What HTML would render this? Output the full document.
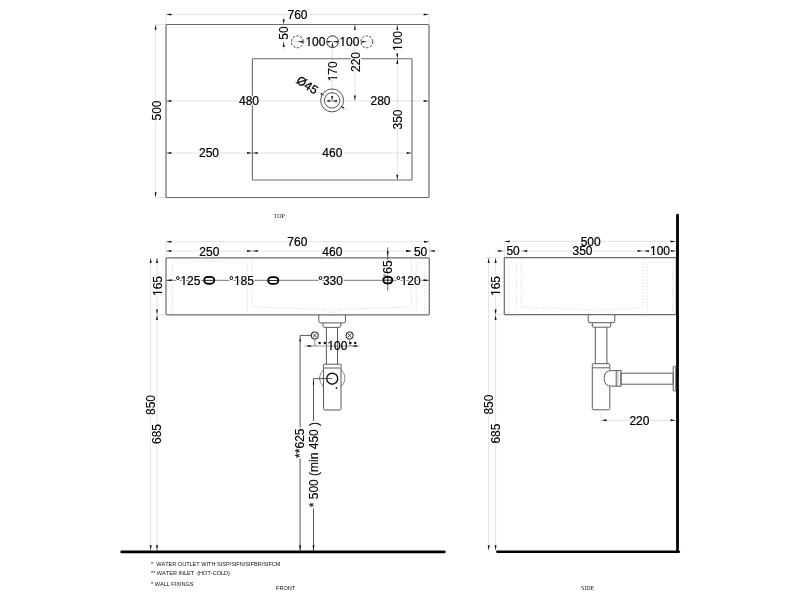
<!DOCTYPE html>
<html><head><meta charset="utf-8"><style>
html,body{margin:0;padding:0;background:#fff;width:800px;height:600px;overflow:hidden}
svg{display:block;filter:grayscale(1)}
text{font-family:"Liberation Sans",sans-serif;font-kerning:none}
</style></head><body>
<svg width="800" height="600" viewBox="0 0 800 600">
<rect width="800" height="600" fill="#fff"/>
<line x1="166" y1="14" x2="166" y2="24.5" stroke="#e2e2e2" stroke-width="1.0" />
<line x1="429" y1="14" x2="429" y2="24.5" stroke="#e2e2e2" stroke-width="1.0" />
<line x1="155" y1="24.5" x2="166" y2="24.5" stroke="#e2e2e2" stroke-width="1.0" />
<line x1="155" y1="197.5" x2="166" y2="197.5" stroke="#e2e2e2" stroke-width="1.0" />
<line x1="166" y1="14.4" x2="429" y2="14.4" stroke="#e2e2e2" stroke-width="1.0" />
<line x1="155.6" y1="24.5" x2="155.6" y2="197.5" stroke="#e2e2e2" stroke-width="1.0" />
<line x1="166" y1="100.9" x2="429" y2="100.9" stroke="#e2e2e2" stroke-width="1.0" />
<line x1="166" y1="153" x2="412" y2="153" stroke="#e2e2e2" stroke-width="1.0" />
<line x1="283.7" y1="14" x2="283.7" y2="50" stroke="#e2e2e2" stroke-width="1.0" />
<line x1="290" y1="41.7" x2="375" y2="41.7" stroke="#e2e2e2" stroke-width="1.0" />
<line x1="332.3" y1="41.7" x2="332.3" y2="100.5" stroke="#e2e2e2" stroke-width="1.0" />
<line x1="354.9" y1="24.5" x2="354.9" y2="100.9" stroke="#e2e2e2" stroke-width="1.0" />
<line x1="397.3" y1="24.5" x2="397.3" y2="180" stroke="#e2e2e2" stroke-width="1.0" />
<line x1="317.2" y1="91" x2="347.6" y2="110.4" stroke="#d8d8d8" stroke-width="1.0" />
<line x1="166" y1="241.7" x2="166" y2="257.8" stroke="#e2e2e2" stroke-width="1.0" />
<line x1="429.3" y1="241.7" x2="429.3" y2="257.8" stroke="#e2e2e2" stroke-width="1.0" />
<line x1="166" y1="241.7" x2="429.3" y2="241.7" stroke="#e2e2e2" stroke-width="1.0" />
<line x1="166" y1="251" x2="439" y2="251" stroke="#e2e2e2" stroke-width="1.0" />
<line x1="150.7" y1="257.8" x2="150.7" y2="551" stroke="#e2e2e2" stroke-width="1.0" />
<line x1="157" y1="257.8" x2="157" y2="551" stroke="#e2e2e2" stroke-width="1.0" />
<line x1="157" y1="314.8" x2="166" y2="314.8" stroke="#e2e2e2" stroke-width="1.0" />
<line x1="504.3" y1="241.4" x2="504.3" y2="257.7" stroke="#e2e2e2" stroke-width="1.0" />
<line x1="676" y1="241.4" x2="676" y2="257.7" stroke="#e2e2e2" stroke-width="1.0" />
<line x1="504.3" y1="241.4" x2="676" y2="241.4" stroke="#e2e2e2" stroke-width="1.0" />
<line x1="494.5" y1="251.1" x2="676" y2="251.1" stroke="#e2e2e2" stroke-width="1.0" />
<line x1="488.7" y1="257.7" x2="488.7" y2="551" stroke="#e2e2e2" stroke-width="1.0" />
<line x1="495.6" y1="257.7" x2="495.6" y2="551" stroke="#e2e2e2" stroke-width="1.0" />
<line x1="486" y1="257.7" x2="504.3" y2="257.7" stroke="#e2e2e2" stroke-width="1.0" />
<line x1="495.6" y1="314.7" x2="504.3" y2="314.7" stroke="#e2e2e2" stroke-width="1.0" />
<line x1="601" y1="412.2" x2="601" y2="420.3" stroke="#e2e2e2" stroke-width="1.0" />
<line x1="601" y1="420.3" x2="676" y2="420.3" stroke="#e2e2e2" stroke-width="1.0" />
<polygon points="166.00,14.40 171.30,13.40 171.30,15.40" fill="#111"/>
<polygon points="429.00,14.40 423.70,13.40 423.70,15.40" fill="#111"/>
<polygon points="155.60,24.50 154.60,29.80 156.60,29.80" fill="#111"/>
<polygon points="155.60,197.50 154.60,192.20 156.60,192.20" fill="#111"/>
<polygon points="166.00,100.90 171.30,99.90 171.30,101.90" fill="#111"/>
<polygon points="429.00,100.90 423.70,99.90 423.70,101.90" fill="#111"/>
<polygon points="166.00,153.00 171.30,152.00 171.30,154.00" fill="#111"/>
<polygon points="252.40,153.00 247.10,152.00 247.10,154.00" fill="#111"/>
<polygon points="252.40,153.00 257.70,152.00 257.70,154.00" fill="#111"/>
<polygon points="412.00,153.00 406.70,152.00 406.70,154.00" fill="#111"/>
<polygon points="283.70,24.50 282.70,19.20 284.70,19.20" fill="#111"/>
<polygon points="283.70,41.70 282.70,47.00 284.70,47.00" fill="#111"/>
<polygon points="297.50,41.70 302.80,40.70 302.80,42.70" fill="#111"/>
<polygon points="332.50,41.70 327.20,40.70 327.20,42.70" fill="#111"/>
<polygon points="332.50,41.70 337.80,40.70 337.80,42.70" fill="#111"/>
<polygon points="366.80,41.70 361.50,40.70 361.50,42.70" fill="#111"/>
<polygon points="354.90,24.50 353.90,29.80 355.90,29.80" fill="#111"/>
<polygon points="354.90,100.90 353.90,95.60 355.90,95.60" fill="#111"/>
<polygon points="397.30,24.50 396.30,29.80 398.30,29.80" fill="#111"/>
<polygon points="397.30,58.80 396.30,53.50 398.30,53.50" fill="#111"/>
<polygon points="397.30,58.80 396.30,64.10 398.30,64.10" fill="#111"/>
<polygon points="397.30,180.00 396.30,174.70 398.30,174.70" fill="#111"/>
<rect x="166" y="24.5" width="263" height="173" rx="1" fill="none" stroke="#6a6a6a" stroke-width="1.2"/>
<rect x="252.4" y="58.8" width="159.6" height="121.2" rx="0.8" fill="none" stroke="#6a6a6a" stroke-width="1.1"/>
<circle cx="297.4" cy="41.8" r="5.95" fill="none" stroke="#333" stroke-width="1" stroke-dasharray="2.2 1.55"/>
<circle cx="366.8" cy="41.8" r="5.95" fill="none" stroke="#333" stroke-width="1" stroke-dasharray="2.2 1.55"/>
<circle cx="332.5" cy="41.7" r="5.9" fill="none" stroke="#333" stroke-width="1"/>
<polygon points="332.50,41.90 331.50,46.70 333.50,46.70" fill="#111"/>
<circle cx="332.1" cy="100.4" r="11.5" fill="none" stroke="#555" stroke-width="1"/>
<circle cx="332.1" cy="100.4" r="7.7" fill="none" stroke="#555" stroke-width="1"/>
<polygon points="332.10,100.90 327.50,99.90 327.50,101.90" fill="#111"/>
<polygon points="332.10,100.90 336.90,99.90 336.90,101.90" fill="#111"/>
<polygon points="332.10,100.70 331.10,95.90 333.10,95.90" fill="#111"/>
<polygon points="324.00,95.60 320.31,94.32 321.28,92.80" fill="#111"/>
<polygon points="340.50,106.00 344.19,107.28 343.22,108.80" fill="#111"/>
<polygon points="166.00,241.70 171.30,240.70 171.30,242.70" fill="#111"/>
<polygon points="429.30,241.70 424.00,240.70 424.00,242.70" fill="#111"/>
<polygon points="166.00,251.00 171.30,250.00 171.30,252.00" fill="#111"/>
<polygon points="252.40,251.00 247.10,250.00 247.10,252.00" fill="#111"/>
<polygon points="252.40,251.00 257.70,250.00 257.70,252.00" fill="#111"/>
<polygon points="411.50,251.00 406.20,250.00 406.20,252.00" fill="#111"/>
<polygon points="429.30,251.00 434.60,250.00 434.60,252.00" fill="#111"/>
<polygon points="411.30,251.00 406.00,250.00 406.00,252.00" fill="#111"/>
<polygon points="150.70,257.80 149.70,263.10 151.70,263.10" fill="#111"/>
<polygon points="157.00,257.80 156.00,263.10 158.00,263.10" fill="#111"/>
<polygon points="157.00,314.80 156.00,309.50 158.00,309.50" fill="#111"/>
<polygon points="157.00,314.80 156.00,320.10 158.00,320.10" fill="#111"/>
<polygon points="150.70,550.50 149.70,545.20 151.70,545.20" fill="#111"/>
<polygon points="157.00,550.50 156.00,545.20 158.00,545.20" fill="#111"/>
<path d="M172.5,314 V264 Q172.5,261 175.5,261 H244.5 Q247.5,261 247.5,264 V314" stroke="#d4d4d4" stroke-width="0.8" fill="none" stroke-dasharray="1.4 1.8"/>
<path d="M252.4,251 V307 L332,309.4 L411.3,307 V258" stroke="#d4d4d4" stroke-width="0.8" fill="none" stroke-dasharray="1.4 1.8"/>
<path d="M416.3,314 V265 Q416.3,262.7 418.6,262.7 H422.4 Q424.7,262.7 424.7,265 V314" stroke="#d4d4d4" stroke-width="0.8" fill="none" stroke-dasharray="1.4 1.8"/>
<path d="M322.5,309.4 Q324,312 327.5,312 H337 Q340.5,312 342,309.4" stroke="#d4d4d4" stroke-width="0.8" fill="none" stroke-dasharray="1.4 1.8"/>
<rect x="166" y="257.8" width="263.3" height="57" rx="1.2" fill="none" stroke="#6a6a6a" stroke-width="1.2"/>
<line x1="166" y1="280.3" x2="429.3" y2="280.3" stroke="#666" stroke-width="0.9" />
<polygon points="166.30,280.30 171.60,279.30 171.60,281.30" fill="#111"/>
<polygon points="429.00,280.30 423.70,279.30 423.70,281.30" fill="#111"/>
<line x1="387.7" y1="247.4" x2="387.7" y2="290.6" stroke="#555" stroke-width="0.9" />
<polygon points="387.70,256.50 386.70,251.20 388.70,251.20" fill="#111"/>
<rect x="204.2" y="276.85" width="10" height="6.9" rx="3.7" ry="3.2" fill="#fff" stroke="#000" stroke-width="1.8"/>
<rect x="268.2" y="277.05" width="10" height="6.9" rx="3.7" ry="3.2" fill="#fff" stroke="#000" stroke-width="1.8"/>
<rect x="383.3" y="276.8" width="9" height="6.6" rx="3.4" ry="3.1" fill="#fff" stroke="#000" stroke-width="1.8"/>
<line x1="204.5" y1="280.4" x2="214" y2="280.4" stroke="#111" stroke-width="0.9" />
<line x1="268.5" y1="280.5" x2="278" y2="280.5" stroke="#111" stroke-width="0.9" />
<line x1="383.5" y1="280.2" x2="392" y2="280.2" stroke="#111" stroke-width="0.9" />
<line x1="387.8" y1="276.5" x2="387.8" y2="283.7" stroke="#111" stroke-width="0.9" />
<circle cx="384.6" cy="275.2" r="0.95" fill="none" stroke="#222" stroke-width="0.6"/>
<path d="M318.8,315 V321 Q318.8,322.9 320.8,322.9 H343.4 Q345.4,322.9 345.4,321 V315" stroke="#5a5a5a" stroke-width="1" fill="none" />
<path d="M323,322.9 V326 Q323,327.4 324.5,327.4 H339.3 Q340.8,327.4 340.8,326 V322.9" stroke="#5a5a5a" stroke-width="1" fill="none" />
<line x1="326.4" y1="327.4" x2="326.4" y2="364.2" stroke="#5a5a5a" stroke-width="1.0" />
<line x1="337.5" y1="327.4" x2="337.5" y2="364.2" stroke="#5a5a5a" stroke-width="1.0" />
<rect x="323.3" y="364.2" width="17.9" height="3.8" rx="0.8" fill="none" stroke="#5a5a5a" stroke-width="1"/>
<path d="M323.5,368 V408.5 Q323.5,410 325,410 H339.5 Q341,410 341,408.5 V368" stroke="#5a5a5a" stroke-width="1" fill="none" />
<path d="M323.5,369.5 Q315.5,378 323.5,387" stroke="#777" stroke-width="0.9" fill="none" />
<path d="M341,369.5 Q349,378 341,387" stroke="#777" stroke-width="0.9" fill="none" />
<circle cx="332.2" cy="378.7" r="5.5" fill="none" stroke="#111" stroke-width="1.4"/>
<circle cx="336.5" cy="388" r="0.9" fill="#222"/>
<polyline points="332,378.6 313.5,378.6 313.5,421" stroke="#444" stroke-width="0.9" fill="none" />
<line x1="313.5" y1="508.5" x2="313.5" y2="551" stroke="#444" stroke-width="0.9" />
<polygon points="313.50,380.50 312.70,384.50 314.30,384.50" fill="#111"/>
<polyline points="311,335.4 300.1,335.4 300.1,427.5" stroke="#444" stroke-width="0.9" fill="none" />
<line x1="300.1" y1="458.5" x2="300.1" y2="551" stroke="#444" stroke-width="0.9" />
<polygon points="300.10,337.60 299.30,341.60 300.90,341.60" fill="#111"/>
<polygon points="300.10,550.50 299.10,545.20 301.10,545.20" fill="#111"/>
<polygon points="313.50,550.50 312.50,545.20 314.50,545.20" fill="#111"/>
<circle cx="314.8" cy="335.5" r="3.5" fill="#fff" stroke="#333" stroke-width="1.1"/>
<line x1="312.90000000000003" y1="333.6" x2="316.7" y2="337.4" stroke="#333" stroke-width="0.9" />
<line x1="312.90000000000003" y1="337.4" x2="316.7" y2="333.6" stroke="#333" stroke-width="0.9" />
<polyline points="314.8,339 314.8,345.6 316.8,345.6" stroke="#777" stroke-width="0.8" fill="none" />
<circle cx="349.6" cy="335.5" r="3.5" fill="#fff" stroke="#333" stroke-width="1.1"/>
<line x1="347.70000000000005" y1="333.6" x2="351.5" y2="337.4" stroke="#333" stroke-width="0.9" />
<line x1="347.70000000000005" y1="337.4" x2="351.5" y2="333.6" stroke="#333" stroke-width="0.9" />
<polyline points="349.6,339 349.6,345.6 351.6,345.6" stroke="#777" stroke-width="0.8" fill="none" />
<line x1="304.4" y1="346" x2="359.6" y2="346" stroke="#888" stroke-width="0.8" />
<polygon points="313.00,346.00 307.70,345.00 307.70,347.00" fill="#111"/>
<polygon points="351.50,346.00 356.80,345.00 356.80,347.00" fill="#111"/>
<circle cx="319.6" cy="342.9" r="1.25" fill="#111"/>
<circle cx="324.8" cy="342.9" r="1.25" fill="#111"/>
<circle cx="350.4" cy="342.9" r="1.25" fill="#111"/>
<circle cx="355.2" cy="342.9" r="1.25" fill="#111"/>
<line x1="121.6" y1="551.9" x2="444.4" y2="551.9" stroke="#000" stroke-width="2.6" stroke-linecap="round"/>
<polygon points="504.30,241.40 509.60,240.40 509.60,242.40" fill="#111"/>
<polygon points="675.80,241.40 670.50,240.40 670.50,242.40" fill="#111"/>
<polygon points="503.50,251.10 498.20,250.10 498.20,252.10" fill="#111"/>
<polygon points="521.80,251.10 527.10,250.10 527.10,252.10" fill="#111"/>
<polygon points="642.80,251.10 637.50,250.10 637.50,252.10" fill="#111"/>
<polygon points="643.60,251.10 648.90,250.10 648.90,252.10" fill="#111"/>
<polygon points="676.00,251.10 670.70,250.10 670.70,252.10" fill="#111"/>
<polygon points="488.70,257.70 487.70,263.00 489.70,263.00" fill="#111"/>
<polygon points="495.60,257.70 494.60,263.00 496.60,263.00" fill="#111"/>
<polygon points="495.60,314.70 494.60,309.40 496.60,309.40" fill="#111"/>
<polygon points="495.60,314.70 494.60,320.00 496.60,320.00" fill="#111"/>
<polygon points="488.70,550.50 487.70,545.20 489.70,545.20" fill="#111"/>
<polygon points="495.60,550.50 494.60,545.20 496.60,545.20" fill="#111"/>
<path d="M509,313 V265 Q509,262.5 511.5,262.5 H514.2 Q516.7,262.5 516.7,265 V313" stroke="#d4d4d4" stroke-width="0.8" fill="none" stroke-dasharray="1.4 1.8"/>
<path d="M521.6,251 V307.2 L601,309.9 L643.2,307.8 V251" stroke="#d4d4d4" stroke-width="0.8" fill="none" stroke-dasharray="1.4 1.8"/>
<path d="M647.2,313 V265 Q647.2,262.5 649.7,262.5 H670 Q672.5,262.5 672.5,265 V313" stroke="#d4d4d4" stroke-width="0.8" fill="none" stroke-dasharray="1.4 1.8"/>
<path d="M589,309.8 Q591,312 594.5,312 H608 Q611.5,312 613.5,309.8" stroke="#d4d4d4" stroke-width="0.8" fill="none" stroke-dasharray="1.4 1.8"/>
<rect x="504.3" y="257.7" width="172" height="57" rx="1" fill="none" stroke="#6a6a6a" stroke-width="1.2"/>
<path d="M588.2,315 V321 Q588.2,322.7 590,322.7 H613 Q614.8,322.7 614.8,321 V315" stroke="#5a5a5a" stroke-width="1" fill="none" />
<path d="M592.3,322.7 V326 Q592.3,327.2 593.5,327.2 H609.5 Q610.7,327.2 610.7,326 V322.7" stroke="#5a5a5a" stroke-width="1" fill="none" />
<line x1="595.3" y1="327.2" x2="595.3" y2="363.7" stroke="#5a5a5a" stroke-width="1.0" />
<line x1="606.9" y1="327.2" x2="606.9" y2="363.7" stroke="#5a5a5a" stroke-width="1.0" />
<rect x="592.3" y="363.7" width="17.5" height="4.1" rx="0.8" fill="none" stroke="#5a5a5a" stroke-width="1"/>
<path d="M592.3,367.8 V408.6 Q592.3,409.8 593.5,409.8 H608.6 Q609.8,409.8 609.8,408.6 V386.5 M609.8,367.8 V370.2" stroke="#5a5a5a" stroke-width="1" fill="none" />
<path d="M616.2,370.6 H611.5 Q604.2,370.6 604.2,378.4 Q604.2,386.2 611.5,386.2 H616.2" stroke="#5a5a5a" stroke-width="1" fill="none" />
<rect x="616.2" y="370.6" width="4.8" height="15.6" fill="none" stroke="#5a5a5a" stroke-width="1"/>
<line x1="618" y1="370.6" x2="618" y2="386.2" stroke="#999" stroke-width="0.7" />
<rect x="621" y="373.2" width="52.2" height="11" fill="none" stroke="#5a5a5a" stroke-width="1"/>
<rect x="673.2" y="366.2" width="2.6" height="25" rx="1" fill="none" stroke="#5a5a5a" stroke-width="1"/>
<polygon points="601.30,420.30 606.60,419.30 606.60,421.30" fill="#111"/>
<polygon points="675.80,420.30 670.50,419.30 670.50,421.30" fill="#111"/>
<line x1="677.5" y1="215.1" x2="677.5" y2="551.7" stroke="#000" stroke-width="2.8" stroke-linecap="round"/>
<line x1="497.4" y1="551.7" x2="678.8" y2="551.7" stroke="#000" stroke-width="2.6" stroke-linecap="round"/>
<text transform="translate(297.5,14.8)" x="0" y="4.30" font-size="12" text-anchor="middle" fill="#fff" stroke="#fff" stroke-width="2.6" stroke-linejoin="round">760</text>
<text transform="translate(156.2,110.5) rotate(-90)" x="0" y="4.30" font-size="12" text-anchor="middle" fill="#fff" stroke="#fff" stroke-width="2.6" stroke-linejoin="round">500</text>
<text transform="translate(249,100.9)" x="0" y="4.30" font-size="12" text-anchor="middle" fill="#fff" stroke="#fff" stroke-width="2.6" stroke-linejoin="round">480</text>
<text transform="translate(380.5,100.9)" x="0" y="4.30" font-size="12" text-anchor="middle" fill="#fff" stroke="#fff" stroke-width="2.6" stroke-linejoin="round">280</text>
<text transform="translate(209,153)" x="0" y="4.30" font-size="12" text-anchor="middle" fill="#fff" stroke="#fff" stroke-width="2.6" stroke-linejoin="round">250</text>
<text transform="translate(332.3,153)" x="0" y="4.30" font-size="12" text-anchor="middle" fill="#fff" stroke="#fff" stroke-width="2.6" stroke-linejoin="round">460</text>
<text transform="translate(283.6,33) rotate(-90)" x="0" y="4.30" font-size="12" text-anchor="middle" fill="#fff" stroke="#fff" stroke-width="2.6" stroke-linejoin="round">50</text>
<text transform="translate(315.4,41.5)" x="0" y="4.30" font-size="12" text-anchor="middle" fill="#fff" stroke="#fff" stroke-width="2.6" stroke-linejoin="round">100</text>
<text transform="translate(349.4,41.5)" x="0" y="4.30" font-size="12" text-anchor="middle" fill="#fff" stroke="#fff" stroke-width="2.6" stroke-linejoin="round">100</text>
<text transform="translate(332.7,71.3) rotate(-90)" x="0" y="4.30" font-size="12" text-anchor="middle" fill="#fff" stroke="#fff" stroke-width="2.6" stroke-linejoin="round">170</text>
<text transform="translate(355.2,62) rotate(-90)" x="0" y="4.30" font-size="12" text-anchor="middle" fill="#fff" stroke="#fff" stroke-width="2.6" stroke-linejoin="round">220</text>
<text transform="translate(397.6,41) rotate(-90)" x="0" y="4.30" font-size="12" text-anchor="middle" fill="#fff" stroke="#fff" stroke-width="2.6" stroke-linejoin="round">100</text>
<text transform="translate(397.6,119.5) rotate(-90)" x="0" y="4.30" font-size="12" text-anchor="middle" fill="#fff" stroke="#fff" stroke-width="2.6" stroke-linejoin="round">350</text>
<text transform="translate(307.4,84.9) rotate(33)" x="0" y="4.30" font-size="12" text-anchor="middle" fill="#fff" stroke="#fff" stroke-width="2.6" stroke-linejoin="round">Ø45</text>
<text transform="translate(209.3,251.5)" x="0" y="4.30" font-size="12" text-anchor="middle" fill="#fff" stroke="#fff" stroke-width="2.6" stroke-linejoin="round">250</text>
<text transform="translate(332.3,251.5)" x="0" y="4.30" font-size="12" text-anchor="middle" fill="#fff" stroke="#fff" stroke-width="2.6" stroke-linejoin="round">460</text>
<text transform="translate(420.6,251.3)" x="0" y="4.30" font-size="12" text-anchor="middle" fill="#fff" stroke="#fff" stroke-width="2.6" stroke-linejoin="round">50</text>
<text transform="translate(297.3,241.3)" x="0" y="4.30" font-size="12" text-anchor="middle" fill="#fff" stroke="#fff" stroke-width="2.6" stroke-linejoin="round">760</text>
<text transform="translate(157.3,286) rotate(-90)" x="0" y="4.30" font-size="12" text-anchor="middle" fill="#fff" stroke="#fff" stroke-width="2.6" stroke-linejoin="round">165</text>
<text transform="translate(150.6,405) rotate(-90)" x="0" y="4.30" font-size="12" text-anchor="middle" fill="#fff" stroke="#fff" stroke-width="2.6" stroke-linejoin="round">850</text>
<text transform="translate(157.1,434) rotate(-90)" x="0" y="4.30" font-size="12" text-anchor="middle" fill="#fff" stroke="#fff" stroke-width="2.6" stroke-linejoin="round">685</text>
<text transform="translate(188,280.6)" x="0" y="4.30" font-size="12" text-anchor="middle" fill="#fff" stroke="#fff" stroke-width="2.6" stroke-linejoin="round">°125</text>
<text transform="translate(241.5,280.6)" x="0" y="4.30" font-size="12" text-anchor="middle" fill="#fff" stroke="#fff" stroke-width="2.6" stroke-linejoin="round">°185</text>
<text transform="translate(330.5,280.6)" x="0" y="4.30" font-size="12" text-anchor="middle" fill="#fff" stroke="#fff" stroke-width="2.6" stroke-linejoin="round">°330</text>
<text transform="translate(408.3,280.6)" x="0" y="4.30" font-size="12" text-anchor="middle" fill="#fff" stroke="#fff" stroke-width="2.6" stroke-linejoin="round">°120</text>
<text transform="translate(387.9,267) rotate(-90)" x="0" y="4.30" font-size="12" text-anchor="middle" fill="#fff" stroke="#fff" stroke-width="2.6" stroke-linejoin="round">65</text>
<text transform="translate(590.7,241.4)" x="0" y="4.30" font-size="12" text-anchor="middle" fill="#fff" stroke="#fff" stroke-width="2.6" stroke-linejoin="round">500</text>
<text transform="translate(513.1,251.1)" x="0" y="4.30" font-size="12" text-anchor="middle" fill="#fff" stroke="#fff" stroke-width="2.6" stroke-linejoin="round">50</text>
<text transform="translate(582.5,251.1)" x="0" y="4.30" font-size="12" text-anchor="middle" fill="#fff" stroke="#fff" stroke-width="2.6" stroke-linejoin="round">350</text>
<text transform="translate(660,251.1)" x="0" y="4.30" font-size="12" text-anchor="middle" fill="#fff" stroke="#fff" stroke-width="2.6" stroke-linejoin="round">100</text>
<text transform="translate(495.8,286) rotate(-90)" x="0" y="4.30" font-size="12" text-anchor="middle" fill="#fff" stroke="#fff" stroke-width="2.6" stroke-linejoin="round">165</text>
<text transform="translate(488.9,404.6) rotate(-90)" x="0" y="4.30" font-size="12" text-anchor="middle" fill="#fff" stroke="#fff" stroke-width="2.6" stroke-linejoin="round">850</text>
<text transform="translate(495.8,433.6) rotate(-90)" x="0" y="4.30" font-size="12" text-anchor="middle" fill="#fff" stroke="#fff" stroke-width="2.6" stroke-linejoin="round">685</text>
<text transform="translate(639.4,420.3)" x="0" y="4.30" font-size="12" text-anchor="middle" fill="#fff" stroke="#fff" stroke-width="2.6" stroke-linejoin="round">220</text>
<text transform="translate(297.5,14.8)" x="0" y="4.30" font-size="12" text-anchor="middle" fill="#000" stroke="#000" stroke-width="0.22">760</text>
<text transform="translate(156.2,110.5) rotate(-90)" x="0" y="4.30" font-size="12" text-anchor="middle" fill="#000" stroke="#000" stroke-width="0.12">500</text>
<text transform="translate(249,100.9)" x="0" y="4.30" font-size="12" text-anchor="middle" fill="#000" stroke="#000" stroke-width="0.22">480</text>
<text transform="translate(380.5,100.9)" x="0" y="4.30" font-size="12" text-anchor="middle" fill="#000" stroke="#000" stroke-width="0.22">280</text>
<text transform="translate(209,153)" x="0" y="4.30" font-size="12" text-anchor="middle" fill="#000" stroke="#000" stroke-width="0.22">250</text>
<text transform="translate(332.3,153)" x="0" y="4.30" font-size="12" text-anchor="middle" fill="#000" stroke="#000" stroke-width="0.22">460</text>
<text transform="translate(283.6,33) rotate(-90)" x="0" y="4.30" font-size="12" text-anchor="middle" fill="#000" stroke="#000" stroke-width="0.12">50</text>
<g transform="translate(315.4,41.5)"><text x="0" y="4.30" font-size="12" text-anchor="middle" fill="#000" stroke="#000" stroke-width="0.22">100</text><rect x="-9.64" y="3.05" width="2.48" height="2.25" fill="#fff"/><rect x="-5.76" y="3.05" width="2.44" height="2.25" fill="#fff"/></g>
<g transform="translate(349.4,41.5)"><text x="0" y="4.30" font-size="12" text-anchor="middle" fill="#000" stroke="#000" stroke-width="0.22">100</text><rect x="-9.64" y="3.05" width="2.48" height="2.25" fill="#fff"/><rect x="-5.76" y="3.05" width="2.44" height="2.25" fill="#fff"/></g>
<g transform="translate(332.7,71.3) rotate(-90)"><text x="0" y="4.30" font-size="12" text-anchor="middle" fill="#000" stroke="#000" stroke-width="0.12">170</text><rect x="-9.64" y="3.05" width="2.48" height="2.25" fill="#fff"/><rect x="-5.76" y="3.05" width="2.44" height="2.25" fill="#fff"/></g>
<text transform="translate(355.2,62) rotate(-90)" x="0" y="4.30" font-size="12" text-anchor="middle" fill="#000" stroke="#000" stroke-width="0.12">220</text>
<g transform="translate(397.6,41) rotate(-90)"><text x="0" y="4.30" font-size="12" text-anchor="middle" fill="#000" stroke="#000" stroke-width="0.12">100</text><rect x="-9.64" y="3.05" width="2.48" height="2.25" fill="#fff"/><rect x="-5.76" y="3.05" width="2.44" height="2.25" fill="#fff"/></g>
<text transform="translate(397.6,119.5) rotate(-90)" x="0" y="4.30" font-size="12" text-anchor="middle" fill="#000" stroke="#000" stroke-width="0.12">350</text>
<text transform="translate(307.4,84.9) rotate(33)" x="0" y="4.30" font-size="12" text-anchor="middle" fill="#000" stroke="#000" stroke-width="0.31">Ø45</text>
<text x="279.2" y="218.2" font-size="6.1" text-anchor="middle" fill="#222" style="font-family:'Liberation Serif',serif">TOP</text>
<text transform="translate(209.3,251.5)" x="0" y="4.30" font-size="12" text-anchor="middle" fill="#000" stroke="#000" stroke-width="0.22">250</text>
<text transform="translate(332.3,251.5)" x="0" y="4.30" font-size="12" text-anchor="middle" fill="#000" stroke="#000" stroke-width="0.22">460</text>
<text transform="translate(420.6,251.3)" x="0" y="4.30" font-size="12" text-anchor="middle" fill="#000" stroke="#000" stroke-width="0.22">50</text>
<text transform="translate(297.3,241.3)" x="0" y="4.30" font-size="12" text-anchor="middle" fill="#000" stroke="#000" stroke-width="0.22">760</text>
<g transform="translate(157.3,286) rotate(-90)"><text x="0" y="4.30" font-size="12" text-anchor="middle" fill="#000" stroke="#000" stroke-width="0.12">165</text><rect x="-9.64" y="3.05" width="2.48" height="2.25" fill="#fff"/><rect x="-5.76" y="3.05" width="2.44" height="2.25" fill="#fff"/></g>
<text transform="translate(150.6,405) rotate(-90)" x="0" y="4.30" font-size="12" text-anchor="middle" fill="#000" stroke="#000" stroke-width="0.12">850</text>
<text transform="translate(157.1,434) rotate(-90)" x="0" y="4.30" font-size="12" text-anchor="middle" fill="#000" stroke="#000" stroke-width="0.12">685</text>
<g transform="translate(188,280.6)"><text x="0" y="4.30" font-size="12" text-anchor="middle" fill="#000" stroke="#000" stroke-width="0.22">°125</text><rect x="-7.24" y="3.05" width="2.48" height="2.25" fill="#fff"/><rect x="-3.36" y="3.05" width="2.44" height="2.25" fill="#fff"/></g>
<g transform="translate(241.5,280.6)"><text x="0" y="4.30" font-size="12" text-anchor="middle" fill="#000" stroke="#000" stroke-width="0.22">°185</text><rect x="-7.24" y="3.05" width="2.48" height="2.25" fill="#fff"/><rect x="-3.36" y="3.05" width="2.44" height="2.25" fill="#fff"/></g>
<text transform="translate(330.5,280.6)" x="0" y="4.30" font-size="12" text-anchor="middle" fill="#000" stroke="#000" stroke-width="0.22">°330</text>
<g transform="translate(408.3,280.6)"><text x="0" y="4.30" font-size="12" text-anchor="middle" fill="#000" stroke="#000" stroke-width="0.22">°120</text><rect x="-7.24" y="3.05" width="2.48" height="2.25" fill="#fff"/><rect x="-3.36" y="3.05" width="2.44" height="2.25" fill="#fff"/></g>
<text transform="translate(387.9,267) rotate(-90)" x="0" y="4.30" font-size="12" text-anchor="middle" fill="#000" stroke="#000" stroke-width="0.12">65</text>
<g transform="translate(337.4,345.8)"><text x="0" y="4.30" font-size="12" text-anchor="middle" fill="#000" stroke="#000" stroke-width="0.22">100</text><rect x="-9.64" y="3.05" width="2.48" height="2.25" fill="#fff"/><rect x="-5.76" y="3.05" width="2.44" height="2.25" fill="#fff"/></g>
<text transform="translate(299.7,443.2) rotate(-90)" x="0" y="4.30" font-size="12" text-anchor="middle" fill="#000" stroke="#000" stroke-width="0.12">**625</text>
<text transform="translate(313.2,464.6) rotate(-90)" x="0" y="4.30" font-size="12" text-anchor="middle" fill="#000" stroke="#000" stroke-width="0.12">* 500 (min 450 )</text>
<text x="151" y="566.3" font-size="5.55" fill="#111">*&#160;&#160;WATER OUTLET WITH SISP/SIFN/SIFBR/SIFCM</text>
<text x="151" y="574.9" font-size="5.55" fill="#111">** WATER INLET&#160;&#160;(HOT-COLD)</text>
<text x="151" y="585.7" font-size="5.55" fill="#111">* WALL FIXINGS</text>
<text x="276" y="590" font-size="5.6" fill="#111">FRONT</text>
<text transform="translate(590.7,241.4)" x="0" y="4.30" font-size="12" text-anchor="middle" fill="#000" stroke="#000" stroke-width="0.22">500</text>
<text transform="translate(513.1,251.1)" x="0" y="4.30" font-size="12" text-anchor="middle" fill="#000" stroke="#000" stroke-width="0.22">50</text>
<text transform="translate(582.5,251.1)" x="0" y="4.30" font-size="12" text-anchor="middle" fill="#000" stroke="#000" stroke-width="0.22">350</text>
<g transform="translate(660,251.1)"><text x="0" y="4.30" font-size="12" text-anchor="middle" fill="#000" stroke="#000" stroke-width="0.22">100</text><rect x="-9.64" y="3.05" width="2.48" height="2.25" fill="#fff"/><rect x="-5.76" y="3.05" width="2.44" height="2.25" fill="#fff"/></g>
<g transform="translate(495.8,286) rotate(-90)"><text x="0" y="4.30" font-size="12" text-anchor="middle" fill="#000" stroke="#000" stroke-width="0.12">165</text><rect x="-9.64" y="3.05" width="2.48" height="2.25" fill="#fff"/><rect x="-5.76" y="3.05" width="2.44" height="2.25" fill="#fff"/></g>
<text transform="translate(488.9,404.6) rotate(-90)" x="0" y="4.30" font-size="12" text-anchor="middle" fill="#000" stroke="#000" stroke-width="0.12">850</text>
<text transform="translate(495.8,433.6) rotate(-90)" x="0" y="4.30" font-size="12" text-anchor="middle" fill="#000" stroke="#000" stroke-width="0.12">685</text>
<text transform="translate(639.4,420.3)" x="0" y="4.30" font-size="12" text-anchor="middle" fill="#000" stroke="#000" stroke-width="0.22">220</text>
<text x="587.6" y="590" font-size="6.0" text-anchor="middle" fill="#222" style="font-family:'Liberation Serif',serif">SIDE</text>
</svg>
</body></html>
